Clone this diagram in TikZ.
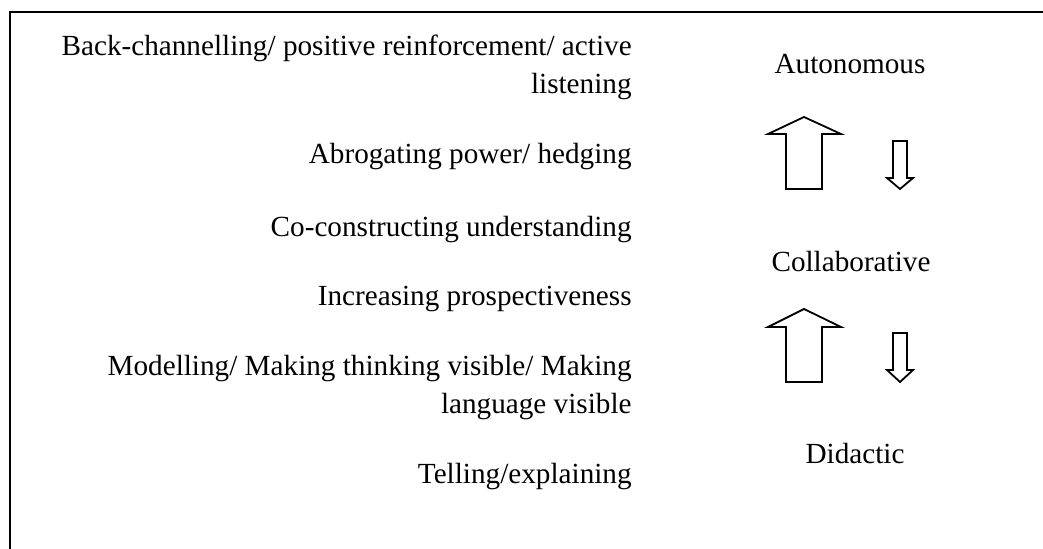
\documentclass[tikz,border=0pt]{standalone}
\usepackage{fontspec}
\setmainfont{Liberation Serif}
\begin{document}
\begin{tikzpicture}[x=0.5pt,y=-0.5pt,
  lbl/.style={inner sep=0pt,font=\fontsize{14.6}{19}\selectfont},
  arrowshape/.style={draw,line width=0.9pt,line join=miter,fill=white}]
\useasboundingbox (0,0) rectangle (1043,549);
% frame
\draw[line width=1.2pt] (10,549) -- (10,12) -- (1043,12);
% left labels
\node[lbl,anchor=base east] (t1) at (632,56) {\begin{tabular}[t]{@{}r@{}}Back-channelling/ positive reinforcement/ active\\listening\end{tabular}};
\node[lbl,anchor=base east] (t2) at (632,164) {Abrogating power/ hedging};
\node[lbl,anchor=base east] (t3) at (632,237) {Co-constructing understanding};
\node[lbl,anchor=base east] (t4) at (632,306) {Increasing prospectiveness};
\node[lbl,anchor=base east] (t5) at (632,376) {\begin{tabular}[t]{@{}r@{}}Modelling/ Making thinking visible/ Making\\language visible\end{tabular}};
\node[lbl,anchor=base east] (t6) at (632,484) {Telling/explaining};
% right labels
\node[lbl,anchor=base] (r1) at (850,74) {Autonomous};
\node[lbl,anchor=base] (r2) at (851,272) {Collaborative};
\node[lbl,anchor=base] (r3) at (855,464) {Didactic};
% big up arrows
\draw[arrowshape] (804,117) -- (841,134) -- (822,134) -- (822,189) -- (786,189) -- (786,134) -- (768,134) -- cycle;
\draw[arrowshape] (804,309) -- (841,327) -- (822,327) -- (822,382) -- (786,382) -- (786,327) -- (768,327) -- cycle;
% small down arrows
\draw[arrowshape] (893,141) -- (907,141) -- (907,178) -- (913,178) -- (900,189) -- (887,178) -- (893,178) -- cycle;
\draw[arrowshape] (893,333) -- (907,333) -- (907,370) -- (913,370) -- (900,382) -- (887,370) -- (893,370) -- cycle;
\end{tikzpicture}
\end{document}
